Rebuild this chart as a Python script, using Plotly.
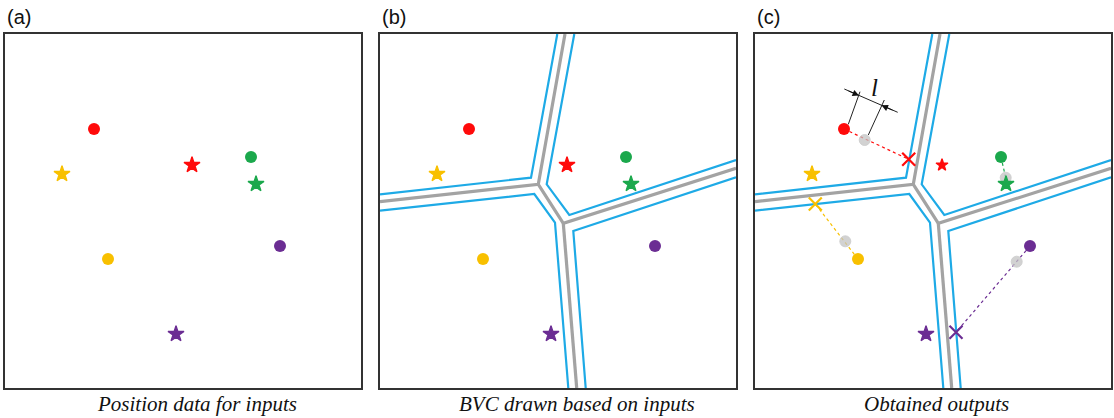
import plotly.graph_objects as go

W, H = 1114, 418
# ---------------- data (panel-local units, 1 unit = 1 px, y downwards) ----------------
colors = ["#FF0A0A", "#F8C000", "#1BA84C", "#6B2D93"]  # red, yellow, green, purple

dot_x = [89, 103, 246, 275]
dot_y = [95, 225, 123, 212]
star_x = [187, 57, 251, 171]
star_y = [131, 140, 150, 300]

# BVC centre lines (gray)
gray_x = [185, 158.3, 0, None, 158.3, 183.3, 356, None, 183.3, 196.7]
gray_y = [0, 150.3, 167.7, None, 150.3, 189.3, 134.3, None, 189.3, 354]

# BVC cell boundaries (blue)
blue_tl_x = [177.3, 151, 0]
blue_tl_y = [0, 143.7, 160.3]
blue_tr_x = [194.3, 166.7, 189.3, 356]
blue_tr_y = [0, 150.3, 181, 126]
blue_bl_x = [0, 154.3, 175, 188.3]
blue_bl_y = [176.7, 160, 188.7, 354]
blue_br_x = [205.7, 193.3, 356]
blue_br_y = [354, 197, 143.3]

# panel (c) outputs
ghost_x = [109.7, 90.3, 250.7, 261.7]
ghost_y = [106, 207.3, 143.7, 227.7]
out_x = [153.7, 60.3, None, 201]
out_y = [125.3, 170, None, 298.3]
green_path_x = [246, 250.7]
green_path_y = [123, 143.7]

# dimension "l"
ext1_x = [93.3, 105]
ext1_y = [90.3, 57.7]
ext2_x = [113.3, 129.3]
ext2_y = [101, 66]
dim_x = [89.3, 142.7]
dim_y = [55, 78.3]
arrow_heads = [(104, 61.5, 92, 56.3), (126.5, 71.3, 139, 76.8)]
l_label = (119, 53)

panel_labels = ["(a)", "(b)", "(c)"]
captions = ["Position data for inputs", "BVC drawn based on inputs", "Obtained outputs"]
caption_cx = [197, 577, 936]
panel_left = [5, 380, 755]
PW, PH = 356, 354
TOP = 34

# ---------------- figure ----------------
fig = go.Figure()
axes = [("x", "y"), ("x2", "y2"), ("x3", "y3")]


def add_points(xa, ya, star_sizes=(12, 12, 12, 12)):
    fig.add_trace(go.Scatter(x=dot_x, y=dot_y, mode="markers", xaxis=xa, yaxis=ya,
                             marker=dict(size=12, color=colors, line=dict(width=0)),
                             hoverinfo="skip", showlegend=False))
    fig.add_trace(go.Scatter(x=star_x, y=star_y, mode="markers", xaxis=xa, yaxis=ya,
                             marker=dict(symbol="star", size=list(star_sizes), color=colors,
                                         opacity=1, line=dict(width=1.3, color=colors)),
                             hoverinfo="skip", showlegend=False))


def add_bvc(xa, ya):
    fig.add_trace(go.Scatter(x=gray_x, y=gray_y, mode="lines", xaxis=xa, yaxis=ya,
                             line=dict(color="#A3A3A3", width=3.2), hoverinfo="skip",
                             showlegend=False, connectgaps=False))
    for bx, by in [(blue_tl_x, blue_tl_y), (blue_tr_x, blue_tr_y),
                   (blue_bl_x, blue_bl_y), (blue_br_x, blue_br_y)]:
        fig.add_trace(go.Scatter(x=bx, y=by, mode="lines", xaxis=xa, yaxis=ya,
                                 line=dict(color="#1EAAE6", width=2.2), hoverinfo="skip",
                                 showlegend=False))


# panel a
add_points("x", "y")
# panel b
add_bvc("x2", "y2")
add_points("x2", "y2")
# panel c
add_bvc("x3", "y3")
for i in range(4):
    if out_x[i] is not None:
        px, py = [dot_x[i], out_x[i]], [dot_y[i], out_y[i]]
    else:
        px, py = green_path_x, green_path_y
    fig.add_trace(go.Scatter(x=px, y=py, mode="lines", xaxis="x3", yaxis="y3",
                             line=dict(color=colors[i], width=1.2, dash="dot"),
                             hoverinfo="skip", showlegend=False))
fig.add_trace(go.Scatter(x=ghost_x, y=ghost_y, mode="markers", xaxis="x3", yaxis="y3",
                         marker=dict(size=11, color="rgba(195,195,195,0.75)",
                                     line=dict(width=1, color="rgba(205,205,205,0.9)")),
                         hoverinfo="skip", showlegend=False))
add_points("x3", "y3", star_sizes=(9, 12, 12, 12))
fig.add_trace(go.Scatter(x=[v for v in out_x if v is not None],
                         y=[v for v in out_y if v is not None],
                         mode="markers", xaxis="x3", yaxis="y3",
                         marker=dict(symbol="x-thin", size=13,
                                     line=dict(width=2.2, color=[colors[0], colors[1], colors[3]])),
                         hoverinfo="skip", showlegend=False))
for lx, ly in [(ext1_x, ext1_y), (ext2_x, ext2_y), (dim_x, dim_y)]:
    fig.add_trace(go.Scatter(x=lx, y=ly, mode="lines", xaxis="x3", yaxis="y3",
                             line=dict(color="#222222", width=1), hoverinfo="skip",
                             showlegend=False))

annotations = []
for hx, hy, tx, ty in arrow_heads:
    annotations.append(dict(x=hx, y=hy, ax=tx, ay=ty, xref="x3", yref="y3",
                            axref="x3", ayref="y3", showarrow=True, arrowhead=2,
                            arrowsize=1.3, arrowwidth=1, arrowcolor="#111111", text=""))
annotations.append(dict(x=l_label[0], y=l_label[1], xref="x3", yref="y3", text="<i>l</i>",
                        showarrow=False,
                        font=dict(family="Liberation Serif", size=25, color="#111111"),
                        xanchor="center", yanchor="middle"))
for i in range(3):
    annotations.append(dict(x=panel_left[i] / W, y=1 - 17 / H, xref="paper", yref="paper",
                            text=panel_labels[i], showarrow=False, xanchor="left",
                            yanchor="middle",
                            font=dict(family="Liberation Sans", size=20, color="#111111")))
    annotations.append(dict(x=caption_cx[i] / W, y=1 - 404 / H, xref="paper", yref="paper",
                            text="<i>" + captions[i] + "</i>", showarrow=False,
                            xanchor="center", yanchor="middle",
                            font=dict(family="Liberation Serif", size=21, color="#111111")))

layout = dict(width=W, height=H, margin=dict(l=0, r=0, t=0, b=0),
              paper_bgcolor="white", plot_bgcolor="white", annotations=annotations,
              showlegend=False)
for i, (xa, ya) in enumerate(axes):
    xk = "xaxis" if i == 0 else f"xaxis{i+1}"
    yk = "yaxis" if i == 0 else f"yaxis{i+1}"
    layout[xk] = dict(domain=[panel_left[i] / W, (panel_left[i] + PW) / W], range=[0, PW],
                      showgrid=False, zeroline=False, showticklabels=False, ticks="",
                      showline=True, mirror=True, linecolor="#333333", linewidth=1.5,
                      anchor=ya, fixedrange=True)
    layout[yk] = dict(domain=[1 - (TOP + PH) / H, 1 - TOP / H], range=[PH, 0],
                      showgrid=False, zeroline=False, showticklabels=False, ticks="",
                      showline=True, mirror=True, linecolor="#333333", linewidth=1.5,
                      anchor=xa, fixedrange=True)
fig.update_layout(**layout)
fig.write_html("out.html", config={"displayModeBar": False},
               post_script="document.body.style.margin='0';document.body.style.overflow='hidden';")
